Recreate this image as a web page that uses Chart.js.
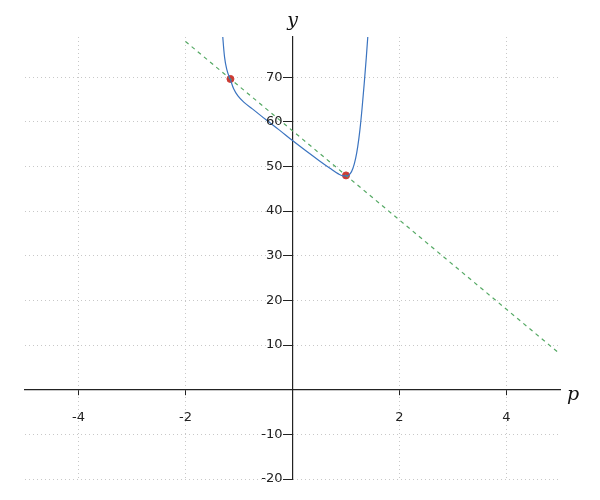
<!DOCTYPE html>
<html>
<head>
<meta charset="utf-8">
<script src="https://cdn.jsdelivr.net/npm/chart.js@4/dist/chart.umd.min.js"></script>
<style>
  html, body { margin: 0; padding: 0; background: #fff; }
  .chart-container { width: 600px; height: 500px; position: relative; }
</style>
</head>
<body>
<div class="chart-container"><canvas id="chart"></canvas></div>
<script>
// curve
const curveX = [-1.32, -1.30, -1.27, -1.23, -1.16, -1.10, -1.02, -0.90, -0.75, -0.50, -0.25, 0, 0.25, 0.50, 0.70, 0.85, 0.95, 1.02, 1.08, 1.13, 1.18, 1.22, 1.26, 1.30, 1.34, 1.38, 1.41, 1.43];
const curveY = [82, 78.5, 74.5, 71.8, 69.4, 67.4, 65.8, 64.3, 62.9, 60.5, 58.2, 55.8, 53.5, 51.3, 49.6, 48.4, 47.9, 47.9, 48.4, 49.6, 51.8, 54.5, 58.2, 63, 68.5, 74.5, 79.5, 83];
// dashed tangent line
const lineX = [-2, 5];
const lineY = [78, 8];
// marked points
const pointX = [-1.16, 1.0];
const pointY = [69.6, 48];

const xTicks = [-4, -2, 0, 2, 4];
const yTicks = [-20, -10, 0, 10, 20, 30, 40, 50, 60, 70];

const toXY = (xs, ys) => xs.map((x, i) => ({ x: x, y: ys[i] }));

// y labels sit left of the centred axis, and the axis names
const axisText = {
  id: 'axisText',
  afterDraw(chart) {
    const { ctx, scales } = chart;
    const x0 = scales.x.getPixelForValue(0);
    const y0 = scales.y.getPixelForValue(0);
    ctx.save();
    ctx.fillStyle = '#222';
    ctx.font = '13px "DejaVu Sans"';
    ctx.textAlign = 'right';
    ctx.textBaseline = 'middle';
    yTicks.forEach(v => {
      if (v === 0) return;
      ctx.fillText(String(v), x0 - 10, scales.y.getPixelForValue(v));
    });
    ctx.fillStyle = '#111';
    ctx.font = 'italic 19px "DejaVu Serif"';
    ctx.textAlign = 'center';
    ctx.fillText('y', x0, 21);
    ctx.fillText('p', chart.chartArea.right + 13, y0 + 5);
    ctx.restore();
  }
};

new Chart(document.getElementById('chart'), {
  type: 'scatter',
  data: {
    datasets: [
      {
        data: toXY(curveX, curveY),
        showLine: true,
        borderColor: '#3b74c0',
        borderWidth: 1.2,
        pointRadius: 0,
        cubicInterpolationMode: 'monotone'
      },
      {
        data: toXY(lineX, lineY),
        showLine: true,
        borderColor: '#55a964',
        borderWidth: 1.2,
        borderDash: [4, 4],
        pointRadius: 0
      },
      {
        data: toXY(pointX, pointY),
        showLine: false,
        backgroundColor: '#cc3b33',
        borderColor: '#cc3b33',
        pointRadius: 3.5
      }
    ]
  },
  options: {
    responsive: true,
    maintainAspectRatio: false,
    animation: false,
    layout: { padding: { left: 25, right: 40, top: 37, bottom: 21 } },
    plugins: { legend: { display: false }, tooltip: { enabled: false } },
    scales: {
      x: {
        type: 'linear',
        min: -5,
        max: 5,
        position: { y: 0 },
        afterBuildTicks: (scale) => { scale.ticks = xTicks.map(v => ({ value: v })); },
        grid: { color: '#c8c8c8', tickColor: '#222', tickLength: 5, tickBorderDash: [] },
        border: { display: true, color: '#222', width: 1.2, dash: [1, 3] },
        ticks: {
          color: '#222',
          padding: 15,
          font: { family: 'DejaVu Sans', size: 13 },
          callback: (v) => v === 0 ? '' : v
        }
      },
      y: {
        type: 'linear',
        min: -20,
        max: 79,
        position: { x: 0 },
        afterBuildTicks: (scale) => { scale.ticks = yTicks.map(v => ({ value: v })); },
        grid: { color: '#c8c8c8', tickColor: '#222', tickLength: 9, tickBorderDash: [] },
        border: { display: true, color: '#222', width: 1.2, dash: [1, 3] },
        ticks: { display: false }
      }
    }
  },
  plugins: [axisText]
});
</script>
</body>
</html>
